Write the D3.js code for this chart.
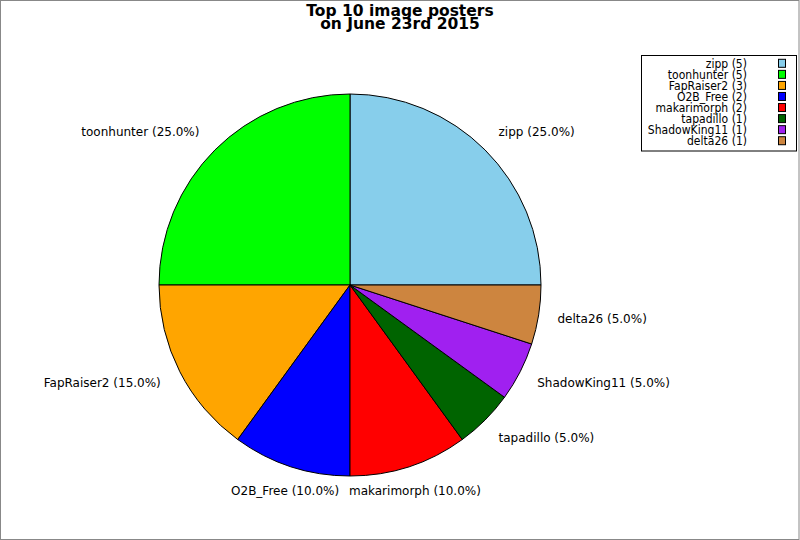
<!DOCTYPE html>
<html>
<head>
<meta charset="utf-8">
<script src="https://cdn.jsdelivr.net/npm/d3@7"></script>
<style>
  body { margin: 0; background: #fff; }
  svg { display: block; font-family: "DejaVu Sans", sans-serif; }
</style>
</head>
<body>
<script>
// Chart data
const posters = ["zipp", "toonhunter", "FapRaiser2", "O2B_Free", "makarimorph", "tapadillo", "ShadowKing11", "delta26"];
const postCounts = [5, 5, 3, 2, 2, 1, 1, 1];
const sliceColors = ["#87ceeb", "#00ff00", "#ffa500", "#0000ff", "#ff0000", "#006400", "#a020f0", "#cd853f"];
const titleLines = ["Top 10 image posters", "on June 23rd 2015"];

const width = 800, height = 540;
const cx = 350, cy = 285, radius = 191;

const svg = d3.select("body").append("svg")
  .attr("width", width)
  .attr("height", height);

// grey frame round the picture
svg.append("rect")
  .attr("x", 0.5).attr("y", 0.5)
  .attr("width", 798.5).attr("height", 539)
  .attr("fill", "#fff")
  .attr("stroke", "#888")
  .attr("stroke-width", 1);

// title, two centred lines
svg.append("g").selectAll("text")
  .data(titleLines)
  .join("text")
  .attr("x", 400)
  .attr("y", (d, i) => 15.5 + i * 13.5)
  .attr("text-anchor", "middle")
  .attr("font-weight", "bold")
  .attr("font-size", "15.5px")
  .text(d => d);

const data = posters.map((name, i) => ({ name, value: postCounts[i], color: sliceColors[i] }));
const total = d3.sum(postCounts);
const pct = d3.format(".1f");

// start at 3 o'clock and run counter-clockwise
const pie = d3.pie()
  .value(d => d.value)
  .sort(null)
  .startAngle(Math.PI / 2)
  .endAngle(Math.PI / 2 - 2 * Math.PI);

const arc = d3.arc().innerRadius(0).outerRadius(radius);
const arcs = pie(data);

const pieG = svg.append("g").attr("transform", `translate(${cx},${cy})`);

pieG.selectAll("path")
  .data(arcs)
  .join("path")
  .attr("d", arc)
  .attr("fill", d => d.data.color)
  .attr("stroke", "#000")
  .attr("stroke-width", 1);

// slice labels at 1.1 radius
const labelR = radius * 1.1;
pieG.selectAll("text.lbl")
  .data(arcs)
  .join("text")
  .attr("class", "lbl")
  .each(function (d) {
    const a = (d.startAngle + d.endAngle) / 2;
    const s = Math.sin(a), c = Math.cos(a);
    d3.select(this)
      .attr("x", s * labelR - (s < -0.5 ? 2 : 0))
      .attr("y", -c * labelR - c * 6)
      .attr("text-anchor", s > 0.5 ? "start" : s < -0.5 ? "end" : "middle");
  })
  .attr("dominant-baseline", "central")
  .attr("font-size", "12px")
  .text(d => `${d.data.name} (${pct(d.data.value / total * 100)}%)`);

// legend
const legend = svg.append("g");
legend.append("rect")
  .attr("x", 641.5).attr("y", 55.5)
  .attr("width", 155).attr("height", 95.5)
  .attr("fill", "#fff")
  .attr("stroke", "#000");

const rows = legend.selectAll("g.row")
  .data(data)
  .join("g")
  .attr("class", "row")
  .attr("transform", (d, i) => `translate(0,${63.3 + i * 11.06})`);

// legend text is tall and narrow in the reference
rows.append("text")
  .attr("transform", "translate(747,0) scale(0.86,1)")
  .attr("text-anchor", "end")
  .attr("dominant-baseline", "central")
  .attr("font-size", "12.6px")
  .text(d => `${d.name} (${d.value})`);

rows.append("rect")
  .attr("x", 778.5).attr("y", -4)
  .attr("width", 7).attr("height", 8)
  .attr("fill", d => d.color)
  .attr("stroke", "#000");
</script>
</body>
</html>
